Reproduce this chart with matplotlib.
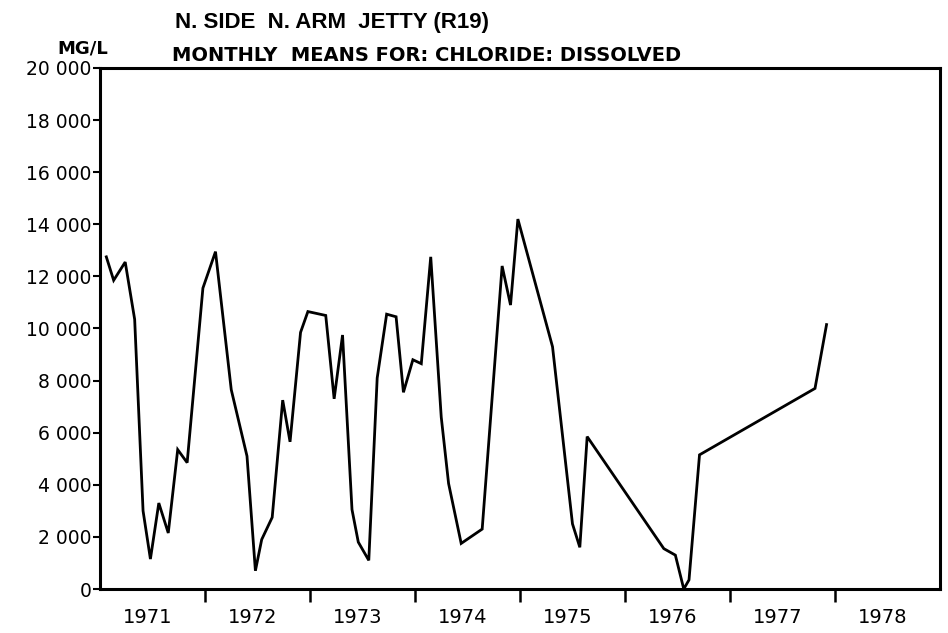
import matplotlib
matplotlib.use('Agg')
import matplotlib.pyplot as plt
from matplotlib.ticker import FixedLocator, NullFormatter, FixedFormatter

# monthly means, decimal year vs chloride (mg/L)
t = [1971.06, 1971.13, 1971.24, 1971.33, 1971.41, 1971.48, 1971.56, 1971.65,
     1971.74, 1971.83, 1971.98, 1972.10, 1972.25, 1972.40, 1972.48, 1972.54,
     1972.64, 1972.74, 1972.81, 1972.91, 1972.98, 1973.15, 1973.23, 1973.31,
     1973.40, 1973.46, 1973.56, 1973.64, 1973.73, 1973.82, 1973.89, 1973.98,
     1974.06, 1974.15, 1974.25, 1974.32, 1974.44, 1974.64, 1974.83, 1974.91,
     1974.98, 1975.31, 1975.50, 1975.57, 1975.64, 1976.37, 1976.48, 1976.56,
     1976.61, 1976.71, 1977.81, 1977.92]
chloride = [12750, 11850, 12550, 10350, 3000, 1150, 3300, 2150,
            5350, 4850, 11550, 12950, 7650, 5100, 700, 1900,
            2750, 7250, 5650, 9850, 10650, 10500, 7300, 9750,
            3050, 1800, 1100, 8100, 10550, 10450, 7550, 8800,
            8650, 12750, 6600, 4050, 1750, 2300, 12400, 10900,
            14200, 9300, 2500, 1600, 5850, 1550, 1300, 0,
            350, 5150, 7700, 10150]

years = list(range(1971, 1979))
yticks = list(range(0, 20001, 2000))
ylabels = ['0', '2 000', '4 000', '6 000', '8 000', '10 000',
           '12 000', '14 000', '16 000', '18 000', '20 000']

plt.rcParams['font.family'] = ['DejaVu Sans']

fig = plt.figure(figsize=(9.48, 6.33), dpi=100)
ax = fig.add_axes([0.1055, 0.0695, 0.886, 0.8231])

ax.plot(t, chloride, color='black', linewidth=2.0, solid_joinstyle='miter')

ax.set_xlim(1971, 1979)
ax.set_ylim(0, 20000)

# year boundaries get the tick marks, labels sit in between
ax.xaxis.set_major_locator(FixedLocator(years[1:]))
ax.xaxis.set_major_formatter(NullFormatter())
ax.xaxis.set_minor_locator(FixedLocator([y + 0.45 for y in years]))
ax.xaxis.set_minor_formatter(FixedFormatter([str(y) for y in years]))
ax.tick_params(axis='x', which='major', direction='out', length=9, width=1.8)
ax.tick_params(axis='x', which='minor', length=0, pad=14, labelsize=14)

ax.set_yticks(yticks)
ax.set_yticklabels(ylabels)
ax.tick_params(axis='y', direction='out', length=5, width=1.5, pad=1, labelsize=13.5)

for s in ax.spines.values():
    s.set_linewidth(2.2)

fig.text(0.185, 0.965, 'N. SIDE  N. ARM  JETTY (R19)', fontsize=16,
         fontweight='bold', ha='left', va='center', family='Liberation Sans')
fig.text(0.181, 0.913, 'MONTHLY  MEANS FOR: CHLORIDE: DISSOLVED', fontsize=14,
         fontweight='bold', ha='left', va='center')
fig.text(0.087, 0.924, 'MG/L', fontsize=13, fontweight='bold',
         ha='center', va='center')

plt.savefig('out.png', dpi=100)
plt.close(fig)
